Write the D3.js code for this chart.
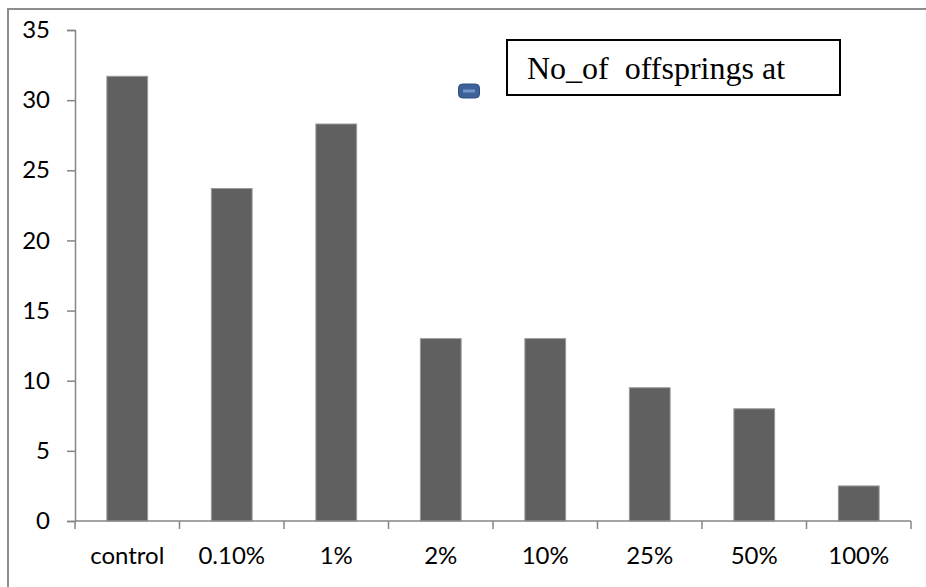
<!DOCTYPE html>
<html>
<head>
<meta charset="utf-8">
<script src="https://cdn.jsdelivr.net/npm/d3@7"></script>
<style>
  html, body { margin: 0; padding: 0; background: #fff; }
  svg { display: block; }
</style>
</head>
<body>
<svg id="chart" width="926" height="587"></svg>
<script>
// Number of offspring per treatment concentration
const categories = ["control", "0.10%", "1%", "2%", "10%", "25%", "50%", "100%"];
const offspring = [31.7, 23.7, 28.3, 13, 13, 9.5, 8, 2.5];
const yTicks = [0, 5, 10, 15, 20, 25, 30, 35];
const legendLabel = "No_of  offsprings at";

const svg = d3.select("#chart");
const W = 926, H = 587;
const plot = { left: 75, right: 911, top: 30, bottom: 521 };
const labelFont = "Lato, 'Open Sans', sans-serif";

// Chart area frame
svg.append("path")
  .attr("d", `M8,${H} L8,9 L${W},9`)
  .attr("fill", "none")
  .attr("stroke", "#8d8d8d")
  .attr("stroke-width", 2);

const x = d3.scaleBand()
  .domain(categories)
  .range([plot.left, plot.right])
  .paddingInner(0.61)
  .paddingOuter(0.305);

const xBand = d3.scaleBand()
  .domain(categories)
  .range([plot.left, plot.right]);

const y = d3.scaleLinear()
  .domain([0, 35])
  .range([plot.bottom, plot.top]);

// Bars
svg.append("g")
  .selectAll("rect")
  .data(categories)
  .join("rect")
  .attr("x", d => x(d))
  .attr("y", (d, i) => y(offspring[i]))
  .attr("width", x.bandwidth())
  .attr("height", (d, i) => y(0) - y(offspring[i]))
  .attr("fill", "#606060")
  .attr("stroke", "#9a9a9a")
  .attr("stroke-width", 1);

// Y axis
const yAxis = d3.axisLeft(y)
  .tickValues(yTicks)
  .tickSize(8)
  .tickPadding(17)
  .tickFormat(d3.format("d"));

const gy = svg.append("g")
  .attr("transform", `translate(${plot.left},0)`)
  .call(yAxis);
gy.select(".domain").attr("stroke", "#868686").attr("stroke-width", 1.5);
gy.selectAll(".tick line").attr("stroke", "#868686").attr("stroke-width", 1.5);
gy.selectAll(".tick text")
  .attr("font-family", labelFont)
  .attr("font-size", 24)
  .attr("fill", "#000");

// X axis with tick marks on category boundaries
const gx = svg.append("g")
  .attr("transform", `translate(0,${plot.bottom})`);
gx.append("line")
  .attr("x1", plot.left).attr("x2", plot.right)
  .attr("stroke", "#868686").attr("stroke-width", 1.5);
const boundaries = categories.map(c => xBand(c)).concat([plot.right]);
gx.selectAll("line.tick")
  .data(boundaries)
  .join("line")
  .attr("class", "tick")
  .attr("x1", d => d).attr("x2", d => d)
  .attr("y1", 0).attr("y2", 8)
  .attr("stroke", "#868686").attr("stroke-width", 1.5);
gx.selectAll("text")
  .data(categories)
  .join("text")
  .attr("x", d => xBand(d) + xBand.bandwidth() / 2)
  .attr("y", 43)
  .attr("text-anchor", "middle")
  .attr("font-family", labelFont)
  .attr("font-size", 24)
  .attr("fill", "#000")
  .text(d => d);

// Legend marker and boxed label
const legend = svg.append("g");
legend.append("rect")
  .attr("x", 458.5).attr("y", 84)
  .attr("width", 21).attr("height", 14)
  .attr("rx", 4)
  .attr("fill", "#3c6299")
  .attr("stroke", "#2f4f80")
  .attr("stroke-width", 1);
legend.append("rect")
  .attr("x", 463).attr("y", 89.5)
  .attr("width", 12).attr("height", 3)
  .attr("fill", "#7196cc");
legend.append("rect")
  .attr("x", 507).attr("y", 40)
  .attr("width", 333).attr("height", 55)
  .attr("fill", "#fff")
  .attr("stroke", "#000")
  .attr("stroke-width", 2);
legend.append("text")
  .attr("x", 527).attr("y", 79)
  .attr("font-family", "'Liberation Serif', 'Times New Roman', serif")
  .attr("font-size", 32)
  .attr("fill", "#000")
  .style("white-space", "pre")
  .text(legendLabel);
</script>
</body>
</html>
